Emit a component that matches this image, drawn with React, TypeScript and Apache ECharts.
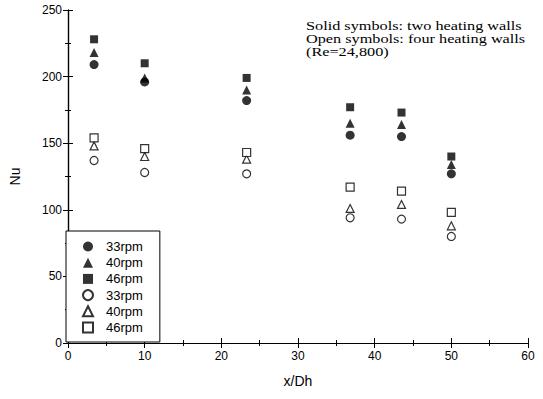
import React, { useEffect, useRef } from "react";
import * as echarts from "echarts";

const xPositions = [3.4, 10, 23.3, 36.8, 43.5, 50];
const solid33 = [209, 196, 182, 156, 155, 127];
const solid40 = [218, 199, 190, 165, 164, 134];
const solid46 = [228, 210, 199, 177, 173, 140];
const open33 = [137, 128, 127, 94, 93, 80];
const open40 = [148, 140, 138, 101, 104, 88];
const open46 = [154, 146, 143, 117, 114, 98];
const seriesNames = ["33rpm ", "40rpm ", "46rpm ", "33rpm", "40rpm", "46rpm"];
const annotation = ["Solid symbols: two heating walls", "Open symbols: four heating walls", "(Re=24,800)"];

export default function App() {
  const ref = useRef<HTMLDivElement>(null);
  useEffect(() => {
    const chart = echarts.init(ref.current!, undefined, { renderer: "svg" });
    const pts = (ys: number[]) => xPositions.map((x, i) => [x, ys[i]]);
    const filled = { color: "#000" };
    const hollow = { color: "#fff", borderColor: "#000", borderWidth: 1.2 };
    const mk = (name: string, data: number[], symbol: string, size: number, style: any) => ({
      name,
      type: "scatter",
      data: pts(data),
      symbol,
      symbolSize: size,
      itemStyle: style,
      emphasis: { disabled: true },
    });
    const axisCommon = {
      axisLine: { show: true, lineStyle: { color: "#000", width: 1.2 } },
      axisTick: { show: true, inside: true, length: 5, lineStyle: { color: "#000" } },
      minorTick: { show: true, splitNumber: 2, length: 3, lineStyle: { color: "#000" } },
      splitLine: { show: false },
      axisLabel: { color: "#000", fontFamily: "Liberation Sans", fontSize: 12 },
    };
    chart.setOption({
      animation: false,
      grid: { left: 66, right: 15, top: 10, bottom: 56 },
      xAxis: [
        {
          type: "value", min: 0, max: 60, interval: 10, ...axisCommon,
          axisLabel: { ...axisCommon.axisLabel, margin: 7 },
          name: "x/Dh", nameLocation: "middle", nameGap: 31,
          nameTextStyle: { color: "#000", fontFamily: "Liberation Sans", fontSize: 14 },
        },
        { type: "value", min: 0, max: 60, interval: 10, position: "top", ...axisCommon, axisLabel: { show: false } },
      ],
      yAxis: [
        {
          type: "value", min: 0, max: 250, interval: 50, ...axisCommon,
          axisLabel: { ...axisCommon.axisLabel, margin: 6 },
          name: "Nu", nameLocation: "middle", nameGap: 46,
          nameTextStyle: { color: "#000", fontFamily: "Liberation Sans", fontSize: 14 },
        },
        { type: "value", min: 0, max: 250, interval: 50, position: "right", ...axisCommon, axisLabel: { show: false } },
      ],
      legend: {
        orient: "vertical",
        left: 66,
        top: 231,
        padding: [9, 17, 8, 16],
        itemGap: 3.2,
        itemWidth: 10,
        itemHeight: 10,
        borderColor: "#000",
        borderWidth: 1,
        backgroundColor: "#fff",
        formatter: (n: string) => n.trim(),
        textStyle: { color: "#000", fontFamily: "Liberation Sans", fontSize: 13, padding: [0, 0, 0, 8] },
        data: seriesNames,
      },
      series: [
        mk(seriesNames[0], solid33, "circle", 9, filled),
        mk(seriesNames[1], solid40, "triangle", 9, filled),
        mk(seriesNames[2], solid46, "rect", 8, filled),
        mk(seriesNames[3], open33, "circle", 8, hollow),
        mk(seriesNames[4], open40, "triangle", 8, hollow),
        mk(seriesNames[5], open46, "rect", 8, hollow),
      ],
      graphic: annotation.map((t, i) => ({
        type: "text",
        x: 306,
        y: 25.5 + i * 13,
        scaleX: 1.25,
        style: { text: t, fill: "#000", font: "13px 'Liberation Serif'", verticalAlign: "middle", align: "left" },
      })),
    });
    return () => chart.dispose();
  }, []);
  return <div ref={ref} style={{ width: 543, height: 399, position: "absolute", left: 0, top: 0 }} />;
}
